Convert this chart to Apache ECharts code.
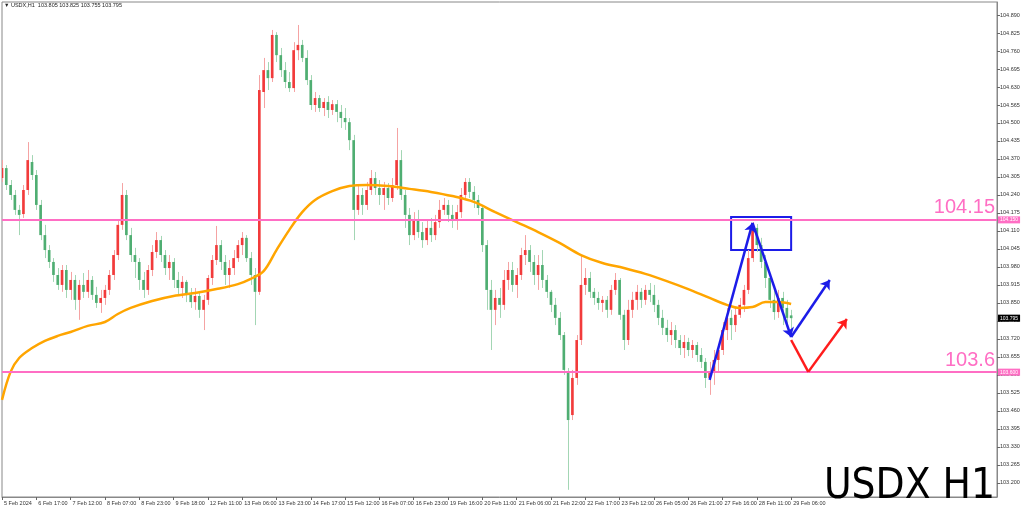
<!DOCTYPE html>
<html><head><meta charset="utf-8">
<script src="https://cdn.jsdelivr.net/npm/echarts@6.0.0/dist/echarts.min.js"></script>
<style>html,body{margin:0;padding:0;background:#fff}#c{width:1024px;height:514px}</style>
</head><body><div id="c"></div>
<script>
const headerText = '\u25BC USDX,H1  103.805 103.825 103.755 103.795';
const cornerTitle = 'USDX H1';
const xTickLabels = ['5 Feb 2024','6 Feb 17:00','7 Feb 12:00','8 Feb 07:00','8 Feb 23:00','9 Feb 18:00','12 Feb 11:00','13 Feb 06:00','13 Feb 23:00','14 Feb 17:00','15 Feb 12:00','16 Feb 07:00','16 Feb 23:00','19 Feb 16:00','20 Feb 11:00','21 Feb 06:00','21 Feb 22:00','22 Feb 17:00','23 Feb 12:00','26 Feb 05:00','26 Feb 21:00','27 Feb 16:00','28 Feb 11:00','29 Feb 06:00'];
const yTickValues = [104.890,104.825,104.760,104.695,104.630,104.565,104.500,104.435,104.370,104.305,104.240,104.175,104.110,104.045,103.980,103.915,103.850,103.785,103.720,103.655,103.590,103.525,103.460,103.395,103.330,103.265,103.200,103.135];
// [open, close, low, high]
const ohlc = [
[104.301,104.337,104.287,104.366],[104.337,104.276,104.258,104.348],[104.276,104.240,104.222,104.294],[104.240,104.186,104.168,104.258],[104.186,104.168,104.095,104.204],
[104.171,104.258,104.157,104.276],[104.258,104.366,104.240,104.431],[104.359,104.312,104.294,104.384],[104.312,104.204,104.186,104.330],[104.204,104.095,104.077,104.222],
[104.095,104.041,104.012,104.132],[104.041,103.998,103.976,104.059],[103.998,103.951,103.926,104.012],[103.951,103.915,103.897,103.976],[103.915,103.969,103.890,103.987],
[103.969,103.897,103.868,103.987],[103.897,103.933,103.861,103.962],[103.933,103.861,103.825,103.951],[103.861,103.915,103.789,103.933],[103.915,103.890,103.868,103.958],
[103.890,103.933,103.868,103.969],[103.933,103.879,103.861,103.947],[103.879,103.850,103.832,103.908],[103.850,103.868,103.814,103.897],[103.868,103.897,103.843,103.915],
[103.897,103.951,103.879,103.969],[103.951,104.023,103.933,104.041],[104.023,104.132,104.005,104.150],[104.132,104.240,104.114,104.283],[104.240,104.095,104.077,104.258],
[104.095,104.023,103.998,104.121],[104.023,103.998,103.940,104.049],[103.998,103.933,103.897,104.012],[103.933,103.897,103.868,103.962],[103.897,103.969,103.879,103.987],
[103.969,104.034,103.947,104.059],[104.034,104.077,104.012,104.106],[104.077,104.023,103.998,104.092],[104.023,103.976,103.951,104.041],[103.976,103.998,103.933,104.023],
[103.998,103.933,103.904,104.012],[103.933,103.904,103.875,103.962],[103.904,103.926,103.868,103.947],[103.926,103.879,103.853,103.933],[103.879,103.853,103.832,103.904],
[103.853,103.875,103.825,103.904],[103.875,103.825,103.796,103.890],[103.825,103.861,103.752,103.879],[103.861,103.940,103.843,103.951],[103.940,104.005,103.915,104.023],
[104.005,104.059,103.987,104.128],[104.059,103.998,103.969,104.077],[103.998,103.951,103.915,104.023],[103.951,103.976,103.904,104.005],[103.976,104.012,103.951,104.041],
[104.012,104.059,103.998,104.077],[104.059,104.085,104.023,104.106],[104.085,104.012,103.998,104.095],[104.012,103.951,103.915,104.034],[103.951,103.890,103.770,103.976],
[103.890,104.619,103.879,104.673],[104.612,104.691,104.554,104.735],[104.691,104.662,104.619,104.720],[104.662,104.818,104.648,104.836],[104.818,104.745,104.720,104.828],
[104.745,104.691,104.666,104.771],[104.691,104.648,104.626,104.720],[104.648,104.626,104.612,104.684],[104.626,104.763,104.612,104.792],[104.763,104.782,104.727,104.854],
[104.782,104.735,104.720,104.800],[104.735,104.655,104.637,104.763],[104.655,104.565,104.547,104.673],[104.565,104.590,104.540,104.612],[104.590,104.554,104.540,104.601],
[104.554,104.576,104.525,104.590],[104.576,104.547,104.518,104.597],[104.547,104.568,104.529,104.583],[104.568,104.540,104.503,104.583],[104.540,104.518,104.482,104.565],
[104.518,104.503,104.475,104.554],[104.503,104.438,104.402,104.518],[104.438,104.186,104.077,104.457],[104.186,104.240,104.168,104.276],[104.240,104.204,104.168,104.265],
[104.204,104.258,104.186,104.287],[104.258,104.301,104.240,104.330],[104.301,104.265,104.240,104.323],[104.265,104.240,104.204,104.294],[104.240,104.265,104.186,104.287],
[104.265,104.229,104.204,104.283],[104.229,104.276,104.215,104.301],[104.276,104.366,104.258,104.482],[104.366,104.240,104.222,104.402],[104.240,104.168,104.121,104.258],
[104.168,104.095,104.059,104.193],[104.095,104.150,104.077,104.178],[104.150,104.106,104.085,104.186],[104.106,104.077,104.049,104.142],[104.077,104.121,104.059,104.150],
[104.121,104.095,104.070,104.157],[104.095,104.142,104.077,104.168],[104.142,104.186,104.121,104.222],[104.186,104.204,104.168,104.229],[104.204,104.168,104.142,104.222],
[104.168,104.150,104.121,104.204],[104.150,104.178,104.114,104.204],[104.178,104.240,104.157,104.265],[104.240,104.287,104.222,104.301],[104.287,104.251,104.229,104.301],
[104.251,104.222,104.193,104.272],[104.222,104.193,104.168,104.240],[104.193,104.059,104.034,104.204],[104.059,103.897,103.825,104.077],[103.897,103.825,103.680,103.933],
[103.825,103.868,103.770,103.897],[103.868,103.843,103.796,103.904],[103.843,103.933,103.825,103.969],[103.933,103.969,103.897,103.998],[103.969,103.915,103.890,103.998],
[103.915,103.951,103.868,103.976],[103.951,104.023,103.933,104.049],[104.023,104.041,103.987,104.095],[104.041,103.998,103.962,104.059],[103.998,103.951,103.915,104.023],
[103.951,103.987,103.897,104.023],[103.987,103.933,103.904,104.041],[103.933,103.890,103.868,103.951],[103.890,103.843,103.817,103.897],[103.843,103.796,103.770,103.868],
[103.796,103.734,103.716,103.817],[103.734,103.608,103.590,103.745],[103.601,103.427,103.175,103.615],[103.445,103.579,103.427,103.608],[103.579,103.716,103.554,103.734],
[103.716,103.915,103.698,104.023],[103.915,103.940,103.879,103.976],[103.940,103.890,103.868,103.962],[103.890,103.868,103.843,103.904],[103.868,103.850,103.825,103.890],
[103.850,103.861,103.817,103.875],[103.861,103.825,103.796,103.875],[103.825,103.897,103.807,103.915],[103.897,103.933,103.879,103.958],[103.933,103.807,103.789,103.940],
[103.807,103.716,103.680,103.825],[103.716,103.825,103.698,103.861],[103.825,103.861,103.796,103.890],[103.861,103.890,103.825,103.915],[103.890,103.861,103.832,103.904],
[103.861,103.897,103.843,103.915],[103.897,103.879,103.853,103.922],[103.879,103.843,103.817,103.915],[103.843,103.796,103.770,103.861],[103.796,103.760,103.734,103.825],
[103.760,103.734,103.709,103.789],[103.734,103.752,103.698,103.781],[103.752,103.716,103.687,103.770],[103.716,103.687,103.662,103.734],[103.687,103.709,103.651,103.734],
[103.709,103.680,103.658,103.724],[103.680,103.698,103.651,103.716],[103.698,103.662,103.637,103.709],[103.662,103.637,103.615,103.687],[103.637,103.579,103.543,103.651],
[103.579,103.601,103.518,103.637],[103.601,103.644,103.554,103.680],[103.644,103.680,103.601,103.698],[103.680,103.752,103.662,103.781],[103.752,103.796,103.716,103.832],
[103.796,103.770,103.716,103.825],[103.770,103.807,103.745,103.832],[103.807,103.843,103.796,103.868],[103.843,103.897,103.817,103.915],[103.897,104.012,103.882,104.041],
[104.012,104.121,103.998,104.142],[104.121,104.059,104.034,104.135],[104.059,103.998,103.976,104.085],[103.998,103.940,103.904,104.023],[103.940,103.861,103.832,103.951],
[103.861,103.817,103.789,103.897],[103.817,103.868,103.796,103.897],[103.868,103.832,103.770,103.890],[103.832,103.796,103.770,103.861],[103.805,103.795,103.755,103.825]
];
// moving average: [bar slot, value]
const maPoints = [[0,103.500],[2,103.601],[4,103.651],[7,103.687],[10,103.713],[13,103.731],[16,103.745],[20,103.767],[24,103.781],[27,103.810],[30,103.832],[35,103.857],[40,103.875],[45,103.886],[50,103.900],[55,103.918],[58,103.937],[61,103.965],[64,104.041],[67,104.114],[70,104.178],[73,104.222],[77,104.254],[81,104.272],[85,104.276],[90,104.272],[95,104.262],[100,104.251],[105,104.236],[110,104.215],[115,104.178],[120,104.142],[125,104.106],[130,104.067],[135,104.023],[140,103.994],[145,103.976],[150,103.955],[155,103.929],[160,103.900],[165,103.868],[169,103.843],[172,103.832],[175,103.835],[178,103.853],[181,103.853],[184,103.846]];
const levels = [104.15, 103.6];
const levelTexts = ['104.15', '103.6'];
const levelTags = ['104.150', '103.600'];
const lastPrice = 103.795;
const blueBox = [[170, 104.160], [184, 104.041]];
const bluePath = [[165, 103.572], [175, 104.139], [184, 103.727], [193, 103.933]];
const redPath = [[184, 103.716], [188, 103.601], [197, 103.792]];

const SLOTS = 233, STEP = 8, LAST_LABEL = 184;
const PINK = '#ff6ec4', BLUE = '#1c1ce8', RED = '#ff1c1c';
const UP = '#f23b3b', DN = '#4fae72', UPW = '#f5a3a3', DNW = '#a3d6b4';
const FONT = '"Liberation Sans", Arial, sans-serif';

const cats = Array.from({length: SLOTS}, (_, i) => String(i));
const candleData = ohlc.map((r, i) => [i, r[0], r[1], r[2], r[3]]);
const tickOn = (i) => i % STEP === 0 && i <= LAST_LABEL;

function renderCandle(params, api) {
  const i = api.value(0), o = api.value(1), c = api.value(2), l = api.value(3), h = api.value(4);
  const po = api.coord([i, o]), pc = api.coord([i, c]), pl = api.coord([i, l]), ph = api.coord([i, h]);
  const w = Math.max(1.5, api.size([1, 0])[0] * 0.62);
  const up = c >= o;
  const top = Math.min(po[1], pc[1]), bot = Math.max(po[1], pc[1]);
  const x = Math.round(po[0]) + 0.5;
  return {type: 'group', children: [
    {type: 'line', shape: {x1: x, y1: ph[1], x2: x, y2: pl[1]}, style: {stroke: up ? UPW : DNW, lineWidth: 1}},
    {type: 'rect', shape: {x: po[0] - w / 2, y: top, width: w, height: Math.max(1, bot - top)}, style: {fill: up ? UP : DN}}
  ]};
}

function seg(a, b, color, arrow) {
  return [
    {coord: a, symbol: 'none', lineStyle: {color: color, width: 2.5, type: 'solid'}},
    {coord: b, symbol: arrow ? 'arrow' : 'none', symbolSize: 9, lineStyle: {color: color, width: 2.5, type: 'solid'}}
  ];
}
// horizontal price levels and tags (no end symbols)
const levelData = [];
levels.forEach((v, k) => {
  levelData.push({yAxis: v, lineStyle: {color: PINK, width: 2, type: 'solid'},
    label: {show: true, position: 'insideEndTop', formatter: levelTexts[k], fontSize: 20, color: PINK, fontFamily: FONT, distance: 2}});
  levelData.push({yAxis: v, lineStyle: {color: 'rgba(0,0,0,0)', width: 1},
    label: {show: true, position: 'end', formatter: levelTags[k], fontSize: 5, color: '#fff', backgroundColor: PINK, padding: [1, 2, 1, 2], distance: 1, fontFamily: FONT}});
});
levelData.push({yAxis: lastPrice, lineStyle: {color: 'rgba(0,0,0,0)', width: 1},
  label: {show: true, position: 'end', formatter: lastPrice.toFixed(3), fontSize: 5, color: '#fff', backgroundColor: '#000', padding: [1, 2, 1, 2], distance: 1, fontFamily: FONT}});
// arrows
const arrowData = [];
for (let k = 0; k < bluePath.length - 1; k++) arrowData.push(seg(bluePath[k], bluePath[k + 1], BLUE, true));
for (let k = 0; k < redPath.length - 1; k++) arrowData.push(seg(redPath[k], redPath[k + 1], RED, k === redPath.length - 2));

const chart = echarts.init(document.getElementById('c'), null, {renderer: 'canvas'});
chart.setOption({
  animation: false,
  backgroundColor: '#fff',
  textStyle: {fontFamily: FONT},
  title: {text: headerText, left: 4, top: 2, padding: 0,
    textStyle: {fontSize: 5.5, color: '#222', fontWeight: 'normal', fontFamily: FONT}},
  graphic: [{type: 'text', right: 29, top: 466, z: 100,
    style: {text: cornerTitle, fontSize: 42, fontFamily: '"Liberation Sans Narrow", "Arial Narrow", "DejaVu Sans Condensed", sans-serif', fill: '#000'}}],
  grid: {left: 2, right: 27, top: 2, bottom: 17, show: true, borderColor: '#888', borderWidth: 1, backgroundColor: '#fff'},
  xAxis: {type: 'category', data: cats, boundaryGap: false,
    axisLine: {show: true, lineStyle: {color: '#888'}},
    axisTick: {show: true, interval: tickOn, length: 3, lineStyle: {color: '#666'}},
    axisLabel: {interval: tickOn, formatter: (v, i) => xTickLabels[i / STEP] || '', align: 'left', fontSize: 5.5, color: '#333', margin: 3, padding: [0, 0, 0, 2], fontFamily: FONT},
    splitLine: {show: false}},
  yAxis: {type: 'value', position: 'right', min: 103.149, max: 104.937,
    axisLine: {show: true, lineStyle: {color: '#888'}},
    axisTick: {show: true, customValues: yTickValues, length: 3, lineStyle: {color: '#666'}},
    axisLabel: {customValues: yTickValues, formatter: (v) => Number(v).toFixed(3), fontSize: 5.5, color: '#333', margin: 3, fontFamily: FONT},
    splitLine: {show: false}},
  series: [
    {type: 'custom', name: 'USDX', renderItem: renderCandle, data: candleData, encode: {x: 0, y: [1, 2, 3, 4]}, clip: true, z: 2},
    {type: 'line', name: 'MA', data: maPoints, smooth: 0.35, symbol: 'none', z: 3,
      lineStyle: {color: '#ffa500', width: 2.5},
      markLine: {silent: true, symbol: ['none', 'none'], precision: 3, data: levelData},
      markArea: {silent: true, itemStyle: {color: 'rgba(0,0,0,0)', borderColor: BLUE, borderWidth: 2},
        data: [[{coord: blueBox[0]}, {coord: blueBox[1]}]]}},
    {type: 'line', name: 'arrows', data: [], symbol: 'none', z: 4,
      markLine: {silent: true, symbol: ['none', 'arrow'], symbolSize: 9, data: arrowData}}
  ]
});
</script></body></html>
